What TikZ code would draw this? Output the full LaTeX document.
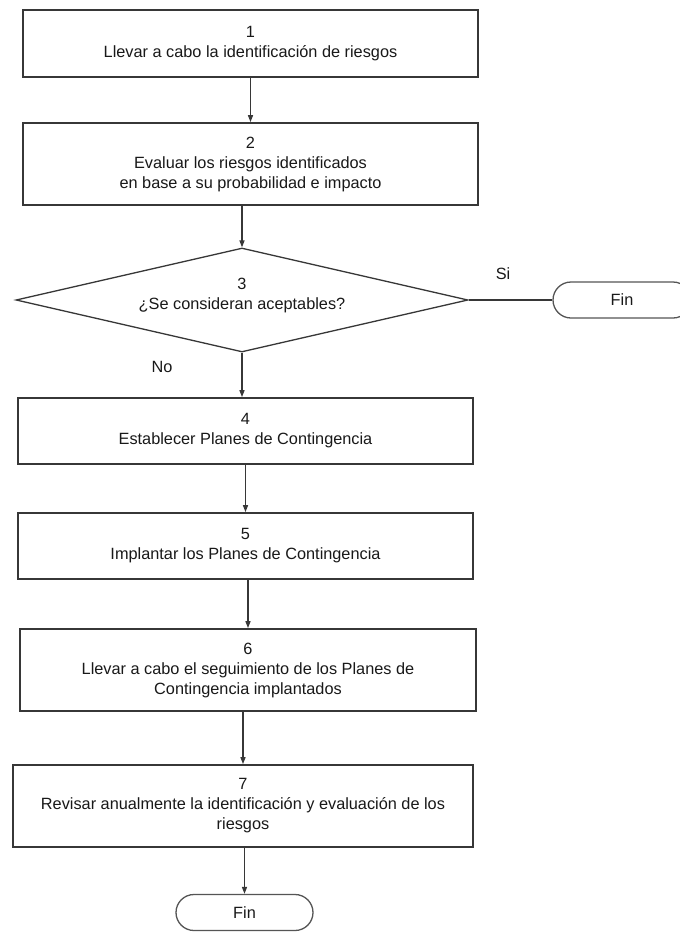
\documentclass[tikz,border=0pt]{standalone}
\usepackage{fontspec}
\setmainfont{Liberation Sans}
\usetikzlibrary{shapes.geometric,shapes.misc,arrows.meta}
\definecolor{edge}{RGB}{55,55,55}
\definecolor{ink}{RGB}{25,25,25}
\tikzset{
  stepbox/.style={draw=edge, line width=1.8pt, rectangle, inner sep=0pt, align=center,
    text=ink, font=\fontsize{16.3}{20}\selectfont},
  decision/.style={draw=edge, line width=1.3pt, diamond, aspect=4.35, inner sep=0pt,
    align=center, text=ink, font=\fontsize{16.3}{20}\selectfont,
    minimum width=452pt, minimum height=104pt},
  terminal/.style={draw=edge!85, line width=1.3pt, rounded rectangle, inner sep=0pt,
    minimum width=137pt, minimum height=36pt, text=ink, font=\fontsize{16.3}{20}\selectfont},
  arr/.style={draw=edge, line width=1.4pt, -{Triangle[length=7pt,width=5pt]}},
  link/.style={draw=edge, line width=1.4pt},
  lbl/.style={text=ink, font=\fontsize{16.3}{20}\selectfont, inner sep=0pt}
}
\begin{document}
\begin{tikzpicture}[x=1pt,y=-1pt]
\useasboundingbox[fill=white] (0,0) rectangle (680,932);
\node[stepbox, minimum width=455pt, minimum height=67pt] (b1) at (250.5,43.5)
  {1\\Llevar a cabo la identificación de riesgos};
\node[stepbox, minimum width=455pt, minimum height=82pt] (b2) at (250.5,164)
  {2\\Evaluar los riesgos identificados\\en base a su probabilidad e impacto};
\node[decision, text depth=12pt] (d) at (242,300)
  {3\\¿Se consideran aceptables?};
\node[terminal, minimum width=138pt] (f1) at (622,300) {Fin};
\node[stepbox, minimum width=455pt, minimum height=66pt] (b4) at (245.5,431)
  {4\\Establecer Planes de Contingencia};
\node[stepbox, minimum width=455pt, minimum height=66pt] (b5) at (245.5,546)
  {5\\Implantar los Planes de Contingencia};
\node[stepbox, minimum width=456pt, minimum height=82pt] (b6) at (248,670)
  {6\\Llevar a cabo el seguimiento de los Planes de\\Contingencia implantados};
\node[stepbox, minimum width=460pt, minimum height=82pt] (b7) at (243,806)
  {7\\Revisar anualmente la identificación y evaluación de los\\riesgos};
\node[terminal] (f2) at (244.5,912.5) {Fin};

\node[lbl] (si) at (503,274) {Si};
\node[lbl] (no) at (162,367) {No};

\draw[arr] (b1.south) -- (b1.south |- b2.north);
\draw[arr] (d.north |- b2.south) -- (d.north);
\draw[link] (d.east) -- (f1.west);
\draw[arr] (d.south) -- (d.south |- b4.north);
\draw[arr] (b5.north |- b4.south) -- (b5.north);
\draw[arr] (b6.north |- b5.south) -- (b6.north);
\draw[arr] (b7.north |- b6.south) -- (b7.north);
\draw[arr] (f2.north |- b7.south) -- (f2.north);
\end{tikzpicture}
\end{document}
